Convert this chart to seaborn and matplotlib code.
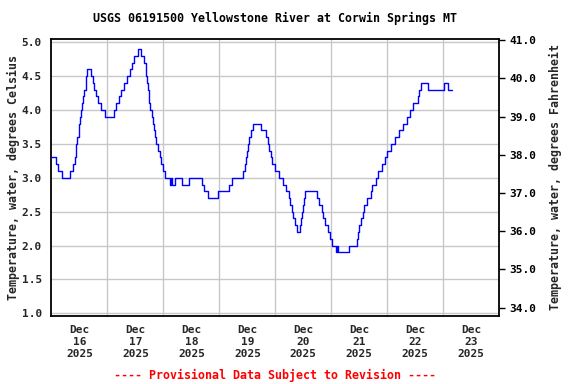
import matplotlib
matplotlib.use("Agg")
import matplotlib.pyplot as plt
import matplotlib.dates as mdates
from matplotlib.ticker import FixedLocator, FormatStrFormatter
import numpy as np
import pandas as pd
import seaborn as sns

# ---- data: change points of the 0.1 degC-quantized record (hours since Dec 16 00:00) ----
change_hours = [
    0.0, 1.9, 2.6, 4.7, 7.9, 9.4, 9.9, 10.3, 10.7, 11.1, 11.6, 12.0, 12.3, 12.6, 12.9,
    13.3, 14.0, 14.6, 15.0, 15.4, 16.9, 17.7, 18.4, 19.2, 20.0, 21.4, 23.1, 26.9, 27.7,
    28.9, 29.9, 31.0, 32.3, 33.7, 34.6, 35.4, 36.9, 38.3, 39.7, 40.4, 40.7, 41.0, 41.3,
    41.6, 41.9, 42.3, 43.0, 43.5, 44.0, 44.4, 44.9, 45.6, 46.5, 47.1, 48.0, 48.6, 50.6,
    51.3, 51.6, 53.1, 56.0, 58.9, 64.7, 65.6, 67.3, 71.6, 76.3, 77.4, 82.0, 82.9, 83.4,
    83.9, 84.4, 84.9, 85.6, 86.3, 89.7, 91.9, 92.7, 93.4, 94.0, 94.7, 95.7, 97.7, 99.4,
    100.6, 101.7, 102.3, 103.2, 103.7, 104.4, 105.2, 106.6, 107.1, 107.4, 107.9, 108.3,
    108.9, 113.7, 114.7, 116.0, 116.6, 117.4, 118.6, 119.4, 120.2, 122.0, 122.6, 122.9,
    127.7, 130.9, 131.4, 132.0, 132.7, 133.5, 134.1, 135.2, 136.9, 137.6, 139.0, 140.0,
    141.7, 143.0, 143.7, 145.7, 147.4, 149.1, 150.9, 152.6, 153.7, 154.9, 157.0, 157.6,
    158.4, 161.6, 168.4, 170.1, 171.9,
]
temp_c = [
    3.3, 3.2, 3.1, 3.0, 3.1, 3.2, 3.3, 3.4, 3.5, 3.6, 3.7, 3.8, 3.9, 4.0, 4.1,
    4.2, 4.3, 4.4, 4.5, 4.6, 4.5, 4.4, 4.3, 4.2, 4.1, 4.0, 3.9, 4.0, 4.1,
    4.2, 4.3, 4.4, 4.5, 4.6, 4.7, 4.8, 4.9, 4.8, 4.7, 4.6, 4.5, 4.4, 4.3,
    4.2, 4.1, 4.0, 3.9, 3.8, 3.7, 3.6, 3.5, 3.4, 3.3, 3.2, 3.1, 3.0, 2.9,
    3.0, 2.9, 3.0, 2.9, 3.0, 2.9, 2.8, 2.7, 2.8, 2.9, 3.0, 3.1, 3.2, 3.3,
    3.4, 3.5, 3.6, 3.7, 3.8, 3.7, 3.6, 3.5, 3.4, 3.3, 3.2, 3.1, 3.0, 2.9,
    2.8, 2.7, 2.6, 2.5, 2.4, 2.3, 2.2, 2.3, 2.4, 2.5, 2.6, 2.7,
    2.8, 2.7, 2.6, 2.5, 2.4, 2.3, 2.2, 2.1, 2.0, 1.9, 2.0, 1.9,
    2.0, 2.1, 2.2, 2.3, 2.4, 2.5, 2.6, 2.7, 2.8, 2.9, 3.0, 3.1,
    3.2, 3.3, 3.4, 3.5, 3.6, 3.7, 3.8, 3.9, 4.0, 4.1, 4.2, 4.3,
    4.4, 4.3, 4.4, 4.3, 4.3,
]
day_labels = ["Dec\n16\n2025", "Dec\n17\n2025", "Dec\n18\n2025", "Dec\n19\n2025",
              "Dec\n20\n2025", "Dec\n21\n2025", "Dec\n22\n2025", "Dec\n23\n2025"]
celsius_ticks = [1.0, 1.5, 2.0, 2.5, 3.0, 3.5, 4.0, 4.5, 5.0]
fahrenheit_ticks = [34.0, 35.0, 36.0, 37.0, 38.0, 39.0, 40.0, 41.0]

title = "USGS 06191500 Yellowstone River at Corwin Springs MT"
footer = "---- Provisional Data Subject to Revision ----"

start = pd.Timestamp("2025-12-16")
df = pd.DataFrame({
    "time": start + pd.to_timedelta(change_hours, unit="h"),
    "temp": temp_c,
})

sns.set_style("white")
plt.rcParams["font.family"] = ["DejaVu Sans Mono"]
plt.rcParams["font.weight"] = "bold"

fig = plt.figure(figsize=(5.76, 3.84), dpi=100)
ax = fig.add_axes([0.0894, 0.1779, 0.7774, 0.7198])

sns.lineplot(data=df, x="time", y="temp", ax=ax, drawstyle="steps-post",
             color="#0000ff", linewidth=1.0, estimator=None, zorder=3)

ax.set_xlim(start, start + pd.Timedelta(days=8))
ax.set_ylim(0.965, 5.044)

# x axis: labels at noon, grid at midnight
noon = [mdates.date2num(start + pd.Timedelta(days=i, hours=12)) for i in range(8)]
midn = [mdates.date2num(start + pd.Timedelta(days=i)) for i in range(1, 8)]
ax.xaxis.set_major_locator(FixedLocator(noon))
ax.set_xticklabels(day_labels, fontsize=8, fontweight="bold")
ax.xaxis.set_minor_locator(FixedLocator(midn))
ax.tick_params(axis="x", which="major", length=0, pad=7)
ax.tick_params(axis="x", which="minor", length=0)
ax.grid(False)
ax.grid(True, which="minor", axis="x", color="#c8c8c8", linewidth=1.0)

ax.yaxis.set_major_locator(FixedLocator(celsius_ticks))
ax.yaxis.set_major_formatter(FormatStrFormatter("%.1f"))
ax.grid(True, which="major", axis="y", color="#c8c8c8", linewidth=1.0)
ax.tick_params(axis="y", which="major", length=0, pad=7, labelsize=8)
for lab in ax.get_yticklabels():
    lab.set_fontweight("bold")

ax.set_xlabel("")
ax.set_ylabel("Temperature, water, degrees Celsius", fontsize=8.4,
              fontweight="bold", labelpad=1)

for s in ax.spines.values():
    s.set_color("black")
    s.set_linewidth(1.3)
    s.set_visible(True)

ax2 = ax.twinx()
ax2.set_ylim(33.79, 41.02)
ax2.yaxis.set_major_locator(FixedLocator(fahrenheit_ticks))
ax2.yaxis.set_major_formatter(FormatStrFormatter("%.1f"))
ax2.tick_params(axis="y", which="major", length=4, width=1, pad=3, labelsize=8,
                direction="out", colors="black", right=True)
for lab in ax2.get_yticklabels():
    lab.set_fontweight("bold")
ax2.set_ylabel("Temperature, water, degrees Fahrenheit", fontsize=8.4,
               fontweight="bold", labelpad=9)
ax2.grid(False)
for s in ax2.spines.values():
    s.set_visible(False)

fig.text(0.477, 0.951, title, ha="center", va="center", fontsize=8.4,
         fontweight="bold", color="black")
fig.text(0.477, 0.023, footer, ha="center", va="center", fontsize=8.4,
         fontweight="bold", color="#ff0000")

fig.savefig("out.png", dpi=100)
